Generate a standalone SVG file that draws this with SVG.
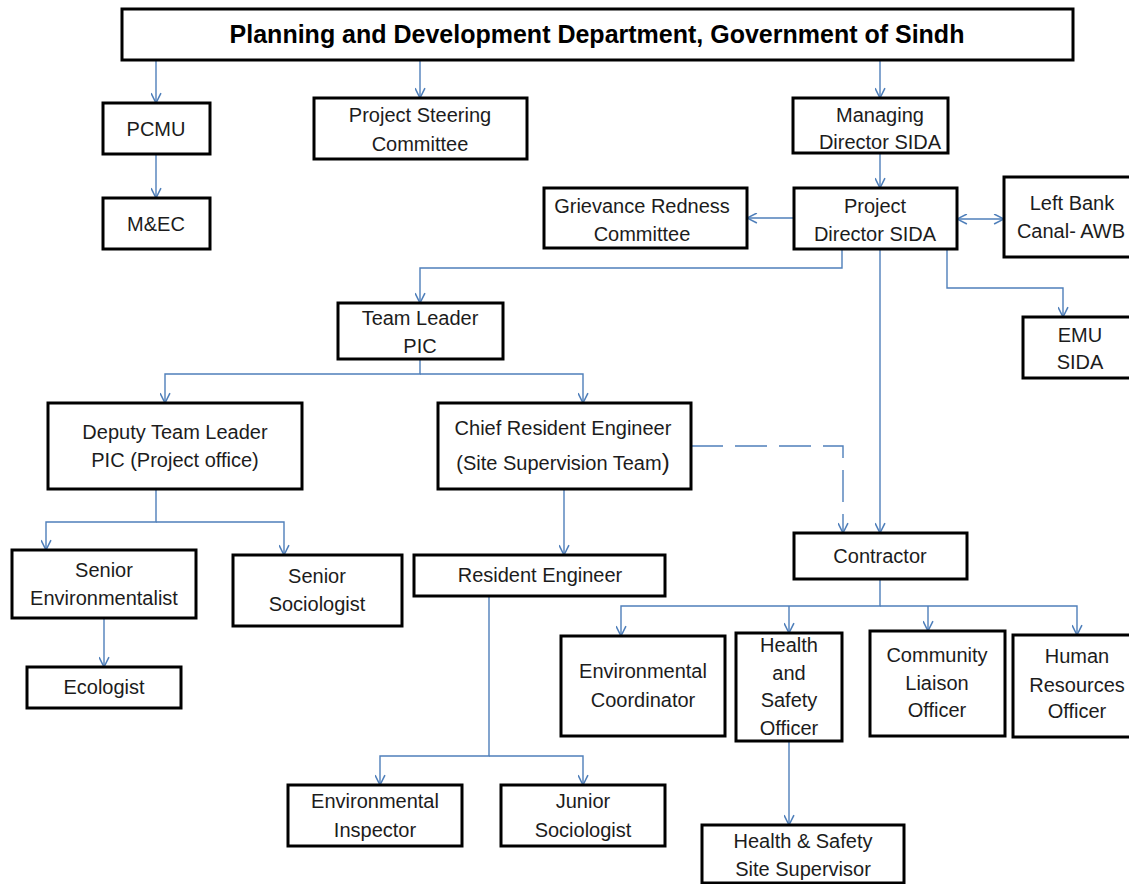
<svg xmlns="http://www.w3.org/2000/svg" width="1129" height="884" viewBox="0 0 1129 884">
  <style>
    .box { fill: #ffffff; stroke: #000000; stroke-width: 3; }
    .lbl { font-family: "Liberation Sans", Arial, sans-serif; font-size: 20px; fill: #1c1c1c; text-anchor: middle; }
    .ttl { font-family: "Liberation Sans", Arial, sans-serif; font-size: 25px; font-weight: bold; fill: #000000; text-anchor: middle; }
    .ln { fill: none; stroke: #4f7fba; stroke-width: 1.4; }
    .arr { marker-end: url(#vhead); }
    .dash { stroke-dasharray: 32 12; }
  </style>
  <defs>
    <marker id="vhead" viewBox="0 0 10 10" refX="10" refY="5" markerWidth="11" markerHeight="11" markerUnits="userSpaceOnUse" orient="auto-start-reverse">
      <path d="M1,0.5 L10,5 L1,9.5" fill="none" stroke="#4f7fba" stroke-width="1.4"/>
    </marker>
  </defs>
  <rect width="1129" height="884" fill="#ffffff"/>

  <!-- connectors -->
  <g id="connectors">
    <path class="ln arr" d="M156,60 V103"/>
    <path class="ln arr" d="M420,60 V98"/>
    <path class="ln arr" d="M880,60 V98"/>
    <path class="ln arr" d="M156,154 V198"/>
    <path class="ln arr" d="M880,153 V188"/>
    <path class="ln arr" d="M794,218 H747"/>
    <path class="ln arr" d="M957,219 H1004" marker-start="url(#vhead)"/>
    <path class="ln arr" d="M842,249 V268 H420 V303"/>
    <path class="ln arr" d="M947,249 V288 H1063 V317"/>
    <path class="ln arr" d="M880,249 V533"/>
    <path class="ln arr dash" d="M691,446 H843 V533"/>
    <path class="ln arr" d="M420,359 V374 H165 V403"/>
    <path class="ln arr" d="M420,374 H583 V403"/>
    <path class="ln arr" d="M156,489 V522 H46 V550"/>
    <path class="ln arr" d="M156,522 H284 V555"/>
    <path class="ln arr" d="M104,618 V667"/>
    <path class="ln arr" d="M564,489 V555"/>
    <path class="ln arr" d="M489,596 V756 H380 V785"/>
    <path class="ln arr" d="M489,756 H583 V785"/>
    <path class="ln arr" d="M880,579 V606 H621 V636"/>
    <path class="ln arr" d="M880,606 H1077 V635"/>
    <path class="ln arr" d="M789,606 V633"/>
    <path class="ln arr" d="M928,606 V631"/>
    <path class="ln arr" d="M789,741 V825"/>
  </g>

  <!-- nodes -->
  <g id="pnd">
    <rect class="box" x="122" y="9" width="951" height="51"/>
    <text class="ttl" x="597" y="43">Planning and Development Department, Government of Sindh</text>
  </g>
  <g id="pcmu">
    <rect class="box" x="103" y="103" width="107" height="51"/>
    <text class="lbl" x="156" y="136">PCMU</text>
  </g>
  <g id="mec">
    <rect class="box" x="103" y="198" width="107" height="51"/>
    <text class="lbl" x="156" y="231">M&amp;EC</text>
  </g>
  <g id="psc">
    <rect class="box" x="314" y="98" width="213" height="61"/>
    <text class="lbl" x="420" y="122">Project Steering</text>
    <text class="lbl" x="420" y="151">Committee</text>
  </g>
  <g id="md-sida">
    <rect class="box" x="793" y="98" width="155" height="55"/>
    <text class="lbl" x="880" y="122">Managing</text>
    <text class="lbl" x="880" y="149">Director SIDA</text>
  </g>
  <g id="pd-sida">
    <rect class="box" x="794" y="188" width="163" height="61"/>
    <text class="lbl" x="875" y="213">Project</text>
    <text class="lbl" x="875" y="241">Director SIDA</text>
  </g>
  <g id="grc">
    <rect class="box" x="544" y="188" width="203" height="60"/>
    <text class="lbl" x="642" y="213">Grievance Redness</text>
    <text class="lbl" x="642" y="241">Committee</text>
  </g>
  <g id="lbc">
    <rect class="box" x="1004" y="177" width="140" height="80"/>
    <text class="lbl" x="1072" y="210">Left Bank</text>
    <text class="lbl" x="1071" y="238">Canal- AWB</text>
  </g>
  <g id="emu">
    <rect class="box" x="1023" y="317" width="121" height="61"/>
    <text class="lbl" x="1080" y="342">EMU</text>
    <text class="lbl" x="1080" y="369">SIDA</text>
  </g>
  <g id="team-leader">
    <rect class="box" x="338" y="303" width="165" height="56"/>
    <text class="lbl" x="420" y="325">Team Leader</text>
    <text class="lbl" x="420" y="353">PIC</text>
  </g>
  <g id="deputy">
    <rect class="box" x="48" y="403" width="254" height="86"/>
    <text class="lbl" x="175" y="439">Deputy Team Leader</text>
    <text class="lbl" x="175" y="467">PIC (Project office)</text>
  </g>
  <g id="chief-re">
    <rect class="box" x="438" y="403" width="253" height="86"/>
    <text class="lbl" x="563" y="435">Chief Resident Engineer</text>
    <text class="lbl" x="563" y="470">(Site Supervision Team<tspan font-size="24">)</tspan></text>
  </g>
  <g id="contractor">
    <rect class="box" x="794" y="533" width="173" height="46"/>
    <text class="lbl" x="880" y="563">Contractor</text>
  </g>
  <g id="senior-env">
    <rect class="box" x="12" y="550" width="184" height="68"/>
    <text class="lbl" x="104" y="577">Senior</text>
    <text class="lbl" x="104" y="605">Environmentalist</text>
  </g>
  <g id="senior-soc">
    <rect class="box" x="233" y="555" width="169" height="71"/>
    <text class="lbl" x="317" y="583">Senior</text>
    <text class="lbl" x="317" y="611">Sociologist</text>
  </g>
  <g id="ecologist">
    <rect class="box" x="27" y="667" width="154" height="41"/>
    <text class="lbl" x="104" y="694">Ecologist</text>
  </g>
  <g id="resident-eng">
    <rect class="box" x="414" y="555" width="251" height="41"/>
    <text class="lbl" x="540" y="582">Resident Engineer</text>
  </g>
  <g id="env-inspector">
    <rect class="box" x="288" y="785" width="174" height="61"/>
    <text class="lbl" x="375" y="808">Environmental</text>
    <text class="lbl" x="375" y="837">Inspector</text>
  </g>
  <g id="junior-soc">
    <rect class="box" x="501" y="785" width="164" height="61"/>
    <text class="lbl" x="583" y="808">Junior</text>
    <text class="lbl" x="583" y="837">Sociologist</text>
  </g>
  <g id="env-coord">
    <rect class="box" x="561" y="636" width="164" height="100"/>
    <text class="lbl" x="643" y="678">Environmental</text>
    <text class="lbl" x="643" y="707">Coordinator</text>
  </g>
  <g id="hs-officer">
    <rect class="box" x="736" y="633" width="106" height="108"/>
    <text class="lbl" x="789" y="652">Health</text>
    <text class="lbl" x="789" y="680">and</text>
    <text class="lbl" x="789" y="707">Safety</text>
    <text class="lbl" x="789" y="735">Officer</text>
  </g>
  <g id="cl-officer">
    <rect class="box" x="870" y="631" width="135" height="105"/>
    <text class="lbl" x="937" y="662">Community</text>
    <text class="lbl" x="937" y="690">Liaison</text>
    <text class="lbl" x="937" y="717">Officer</text>
  </g>
  <g id="hr-officer">
    <rect class="box" x="1013" y="635" width="131" height="102"/>
    <text class="lbl" x="1077" y="663">Human</text>
    <text class="lbl" x="1077" y="692">Resources</text>
    <text class="lbl" x="1077" y="718">Officer</text>
  </g>
  <g id="hs-supervisor">
    <rect class="box" x="702" y="825" width="202" height="58"/>
    <text class="lbl" x="803" y="848">Health &amp; Safety</text>
    <text class="lbl" x="803" y="876">Site Supervisor</text>
  </g>
</svg>
